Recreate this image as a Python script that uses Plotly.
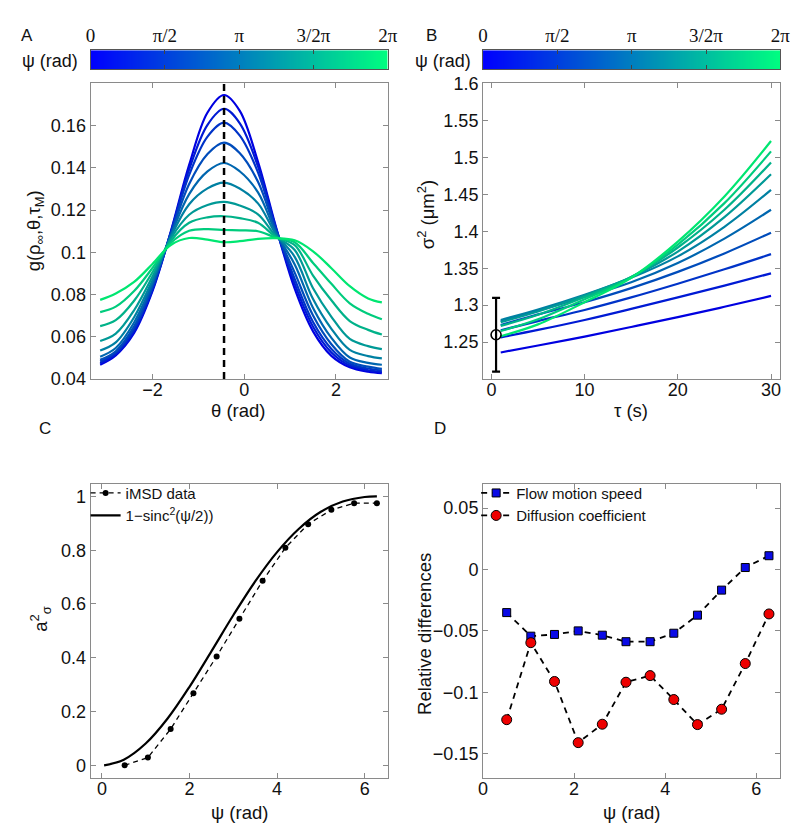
import plotly.graph_objects as go

W, H = 800, 831
def px(x): return x / W
def py(y): return 1 - y / H

FONT = "Liberation Sans, Arial, Helvetica, sans-serif"
SERIF = "Liberation Serif, Times New Roman, serif"
AXC = "#8a8a8a"
TXT = "#111111"

# ---------------- Data ----------------
# Panel A : g(rho_inf, theta, tau_M) for 10 values of psi (0 -> 2pi)
theta = [-3.14, -2.8, -2.4, -2.0, -1.6, -1.2, -0.8, -0.44, -0.1, 0.3, 0.7, 1.1, 1.5, 1.9, 2.3, 2.7, 3.0]
g_psi1 = [0.0468, 0.0512, 0.0618, 0.0816, 0.1099, 0.1414, 0.1662, 0.1745, 0.1671, 0.1429, 0.1114, 0.0828, 0.0626, 0.0510, 0.0456, 0.0435, 0.0428]
g_psi2 = [0.0475, 0.0518, 0.0627, 0.0823, 0.1095, 0.1393, 0.1604, 0.1680, 0.1612, 0.1407, 0.1109, 0.0851, 0.0648, 0.0526, 0.0464, 0.0442, 0.0434]
g_psi3 = [0.0483, 0.0525, 0.0637, 0.0831, 0.1092, 0.1367, 0.1548, 0.1614, 0.1554, 0.1379, 0.1105, 0.0874, 0.0670, 0.0543, 0.0473, 0.0450, 0.0440]
g_psi4 = [0.0491, 0.0532, 0.0650, 0.0841, 0.1086, 0.1324, 0.1466, 0.1520, 0.1470, 0.1334, 0.1098, 0.0904, 0.0701, 0.0565, 0.0482, 0.0459, 0.0448]
g_psi5 = [0.0506, 0.0547, 0.0668, 0.0854, 0.1080, 0.1276, 0.1383, 0.1423, 0.1384, 0.1284, 0.1090, 0.0943, 0.0737, 0.0595, 0.0502, 0.0477, 0.0468]
g_psi6 = [0.0535, 0.0574, 0.0693, 0.0868, 0.1073, 0.1228, 0.1303, 0.1330, 0.1302, 0.1232, 0.1083, 0.0979, 0.0779, 0.0638, 0.0538, 0.0509, 0.0498]
g_psi7 = [0.0580, 0.0615, 0.0726, 0.0886, 0.1065, 0.1178, 0.1224, 0.1239, 0.1222, 0.1180, 0.1076, 0.1011, 0.0830, 0.0695, 0.0590, 0.0556, 0.0542]
g_psi8 = [0.0651, 0.0679, 0.0771, 0.0906, 0.1054, 0.1140, 0.1166, 0.1171, 0.1162, 0.1140, 0.1072, 0.1034, 0.0890, 0.0773, 0.0675, 0.0633, 0.0611]
g_psi9 = [0.0717, 0.0743, 0.0817, 0.0926, 0.1044, 0.1102, 0.1110, 0.1106, 0.1104, 0.1100, 0.1069, 0.1048, 0.0950, 0.0851, 0.0759, 0.0709, 0.0683]
g_psi10 = [0.0775, 0.0805, 0.0860, 0.0945, 0.1035, 0.1068, 0.1060, 0.1048, 0.1053, 0.1064, 0.1067, 0.1057, 0.1005, 0.0925, 0.0840, 0.0782, 0.0763]
g_curves = [g_psi1, g_psi2, g_psi3, g_psi4, g_psi5, g_psi6, g_psi7, g_psi8, g_psi9, g_psi10]
theta_peak = -0.44

# Panel B : sigma^2(tau) for the same 10 psi values
tau = [1, 5, 10, 15, 20, 25, 30]
s2_psi1 = [1.236, 1.2455, 1.2575, 1.2705, 1.2838, 1.2978, 1.3125]
s2_psi2 = [1.2565, 1.2665, 1.2800, 1.2950, 1.3105, 1.3265, 1.3430]
s2_psi3 = [1.266, 1.2785, 1.2935, 1.3105, 1.3290, 1.3485, 1.3690]
s2_psi4 = [1.273, 1.2875, 1.3040, 1.3230, 1.3450, 1.3700, 1.3980]
s2_psi5 = [1.278, 1.2925, 1.3110, 1.3310, 1.3570, 1.3900, 1.4290]
s2_psi6 = [1.280, 1.2940, 1.3140, 1.3370, 1.3660, 1.4060, 1.4560]
s2_psi7 = [1.277, 1.2915, 1.3130, 1.3380, 1.3725, 1.4190, 1.4770]
s2_psi8 = [1.272, 1.2870, 1.3110, 1.3380, 1.3780, 1.4290, 1.4930]
s2_psi9 = [1.265, 1.2810, 1.3080, 1.3375, 1.3820, 1.4380, 1.5080]
s2_psi10 = [1.258, 1.2740, 1.3040, 1.3370, 1.3860, 1.4470, 1.5220]
s2_curves = [s2_psi1, s2_psi2, s2_psi3, s2_psi4, s2_psi5, s2_psi6, s2_psi7, s2_psi8, s2_psi9, s2_psi10]
tau_obs = [0.5]
s2_obs = [1.26]
s2_err = [0.05]

# Colour bars (psi scale)
psi_cbar_ticks = [0, 1.5708, 3.1416, 4.7124, 6.2832]
psi_cbar_labels = ["0", "π/2", "π", "3/2π", "2π"]

# Panel C
psi_fit = [0.05, 0.5, 1.0, 1.5, 2.0, 2.5, 3.0, 3.5, 4.0, 4.5, 5.0, 5.5, 6.0, 6.28]
a2_fit = [0.0, 0.021, 0.081, 0.174, 0.292, 0.424, 0.558, 0.684, 0.793, 0.880, 0.943, 0.981, 0.998, 1.0]
psi_data = [0.52, 1.05, 1.57, 2.09, 2.62, 3.14, 3.67, 4.19, 4.71, 5.24, 5.76, 6.28]
a2_data = [0.0, 0.029, 0.135, 0.268, 0.405, 0.545, 0.686, 0.809, 0.897, 0.950, 0.975, 0.975]

# Panel D
flow_rel = [-0.0351, -0.0543, -0.0529, -0.0500, -0.0535, -0.0588, -0.0588, -0.0519, -0.0372, -0.0168, 0.0016, 0.0112]
diff_rel = [-0.1223, -0.0596, -0.0912, -0.1410, -0.1260, -0.0918, -0.0864, -0.1059, -0.1263, -0.1138, -0.0766, -0.0362]

# tick labels
a_yticks = [0.04, 0.06, 0.08, 0.10, 0.12, 0.14, 0.16]
a_yticklabels = ["0.04", "0.06", "0.08", "0.1", "0.12", "0.14", "0.16"]
a_xticks = [-2, 0, 2]
a_xticklabels = ["−2", "0", "2"]
b_yticks = [1.25, 1.3, 1.35, 1.4, 1.45, 1.5, 1.55, 1.6]
b_yticklabels = ["1.25", "1.3", "1.35", "1.4", "1.45", "1.5", "1.55", "1.6"]
b_xticks = [0, 10, 20, 30]
c_yticks = [0, 0.2, 0.4, 0.6, 0.8, 1.0]
c_yticklabels = ["0", "0.2", "0.4", "0.6", "0.8", "1"]
psi_xticks = [0, 2, 4, 6]
d_yticks = [-0.15, -0.1, -0.05, 0, 0.05]
d_yticklabels = ["−0.15", "−0.1", "−0.05", "0", "0.05"]

# ---------------- Figure ----------------
n = len(g_curves)
# winter colormap, slightly darkened for the thin lines
colors = ["rgb(0,%d,%d)" % (round(0.9 * 255 * k / (n - 1)), round(0.88 * (255 - 127 * k / (n - 1)))) for k in range(n)]
winter = [[0, "rgb(0,0,255)"], [1, "rgb(0,255,128)"]]

fig = go.Figure()

for k, g in enumerate(g_curves):
    fig.add_trace(go.Scatter(x=theta, y=g, mode="lines", line=dict(color=colors[k], width=2.2, shape="spline", smoothing=1.0),
                             xaxis="x", yaxis="y", showlegend=False, hoverinfo="skip"))

for k, s in enumerate(s2_curves):
    fig.add_trace(go.Scatter(x=tau, y=s, mode="lines", line=dict(color=colors[k], width=2.2, shape="spline", smoothing=1.0),
                             xaxis="x2", yaxis="y2", showlegend=False, hoverinfo="skip"))
fig.add_trace(go.Scatter(x=tau_obs, y=s2_obs, mode="markers",
                         marker=dict(symbol="circle-open", size=10, color="black", line=dict(width=1.6, color="black")),
                         error_y=dict(type="data", array=s2_err, color="black", thickness=2.2, width=4),
                         xaxis="x2", yaxis="y2", showlegend=False))

# colour bars
for xa, ya in (("x5", "y5"), ("x6", "y6")):
    fig.add_trace(go.Heatmap(x=psi_cbar_ticks, y=[0, 1], z=[psi_cbar_ticks, psi_cbar_ticks], colorscale=winter,
                             zsmooth="best", showscale=False, xaxis=xa, yaxis=ya, hoverinfo="skip"))

# Panel C
fig.add_trace(go.Scatter(x=psi_data, y=a2_data, mode="lines+markers", name="iMSD data",
                         line=dict(color="black", width=1.3, dash="5px,4px"),
                         marker=dict(color="black", size=6), xaxis="x3", yaxis="y3", legend="legend"))
fig.add_trace(go.Scatter(x=psi_fit, y=a2_fit, mode="lines", name="1−sinc<sup>2</sup>(ψ/2))",
                         line=dict(color="black", width=2.2, shape="spline"), xaxis="x3", yaxis="y3", legend="legend"))

# Panel D
fig.add_trace(go.Scatter(x=psi_data, y=flow_rel, mode="lines+markers", name="Flow motion speed",
                         line=dict(color="black", width=1.8, dash="6px,5px"),
                         marker=dict(symbol="square", size=8, color="#0a0ae6", line=dict(color="black", width=1)),
                         xaxis="x4", yaxis="y4", legend="legend2"))
fig.add_trace(go.Scatter(x=psi_data, y=diff_rel, mode="lines+markers", name="Diffusion coefficient",
                         line=dict(color="black", width=1.8, dash="6px,5px"),
                         marker=dict(symbol="circle", size=10, color="#ee0000", line=dict(color="black", width=1)),
                         xaxis="x4", yaxis="y4", legend="legend2"))

def frame(dom, rng, tv, tt=None, **kw):
    d = dict(domain=dom, range=rng, tickvals=tv, showline=True, linecolor=AXC, linewidth=1, mirror="ticks",
             ticks="inside", ticklen=5, tickcolor=AXC, showgrid=False, zeroline=False,
             tickfont=dict(family=FONT, size=18, color=TXT))
    if tt is not None:
        d["ticktext"] = tt
    d.update(kw)
    return d

xA = [px(79), px(382)]
xB = [px(479), px(782)]
yTop = [py(370), py(67)]
yBot = [py(779), py(477)]
yBar = [py(52.5), py(33)]

fig.update_layout(
    width=W, height=H, margin=dict(l=0, r=0, t=0, b=0),
    paper_bgcolor="white", plot_bgcolor="white",
    font=dict(family=FONT, color=TXT),
    xaxis=frame(xA, [-3.35, 3.13], a_xticks, a_xticklabels, anchor="y", ticklabelstandoff=-6),
    yaxis=frame(yTop, [0.04, 0.18], a_yticks, a_yticklabels, anchor="x"),
    xaxis2=frame(xB, [-0.9, 31], b_xticks, anchor="y2", ticklabelstandoff=-6),
    yaxis2=frame(yTop, [1.2, 1.6], b_yticks, b_yticklabels, anchor="x2"),
    xaxis3=frame(xA, [-0.26, 6.53], psi_xticks, anchor="y3", ticklabelstandoff=-6),
    yaxis3=frame(yBot, [-0.048, 1.048], c_yticks, c_yticklabels, anchor="x3"),
    xaxis4=frame(xB, [0, 6.53], psi_xticks, anchor="y4", ticklabelstandoff=-6),
    yaxis4=frame(yBot, [-0.17, 0.07], d_yticks, d_yticklabels, anchor="x4"),
    xaxis5=frame(xA, [0, 6.2832], psi_cbar_ticks, psi_cbar_labels, anchor="y5", side="top",
                 tickfont=dict(family=SERIF, size=19, color=TXT), ticklen=4, tickcolor="#444", linecolor="#555"),
    yaxis5=frame(yBar, [0, 1], [], anchor="x5", showticklabels=False, linecolor="#555"),
    xaxis6=frame(xB, [0, 6.2832], psi_cbar_ticks, psi_cbar_labels, anchor="y6", side="top",
                 tickfont=dict(family=SERIF, size=19, color=TXT), ticklen=4, tickcolor="#444", linecolor="#555"),
    yaxis6=frame(yBar, [0, 1], [], anchor="x6", showticklabels=False, linecolor="#555"),
    legend=dict(x=px(74), y=py(470), xanchor="left", yanchor="top", bgcolor="rgba(0,0,0,0)",
                font=dict(family=FONT, size=15, color=TXT), itemwidth=30),
    legend2=dict(x=px(472), y=py(470), xanchor="left", yanchor="top", bgcolor="rgba(0,0,0,0)",
                 font=dict(family=FONT, size=15, color=TXT), itemwidth=30),
)

fig.add_shape(type="line", xref="x", yref="y domain", x0=theta_peak, x1=theta_peak, y0=0, y1=1,
              line=dict(color="black", width=2.5, dash="7px,5px"))

def ann(text, x, y, size=18.5, angle=0, family=FONT):
    fig.add_annotation(text=text, x=px(x), y=py(y), xref="paper", yref="paper", showarrow=False,
                       textangle=angle, font=dict(family=family, size=size, color=TXT),
                       xanchor="center", yanchor="middle")

ann("A", 14, 18, 17)
ann("B", 426, 18, 17)
ann("C", 33, 421, 17)
ann("D", 435, 421, 17)
ann("ψ (rad)", 38, 44, 18)
ann("ψ (rad)", 438, 44, 18)
ann("θ (rad)", 230, 402)
ann("τ (s)", 630, 402)
ann("ψ (rad)", 231, 814)
ann("ψ (rad)", 630, 814)
ann("g(ρ<sub>∞</sub>,θ,τ<sub>M</sub>)", 22, 218, angle=-90)
ann("σ<sup>2</sup> (μm<sup>2</sup>)", 421, 202, angle=-90)
ann("a<sup>2</sup><sub>σ</sub>", 28, 615, angle=-90)
ann("Relative differences", 420, 631, angle=-90)

fig.write_html("out.html")
